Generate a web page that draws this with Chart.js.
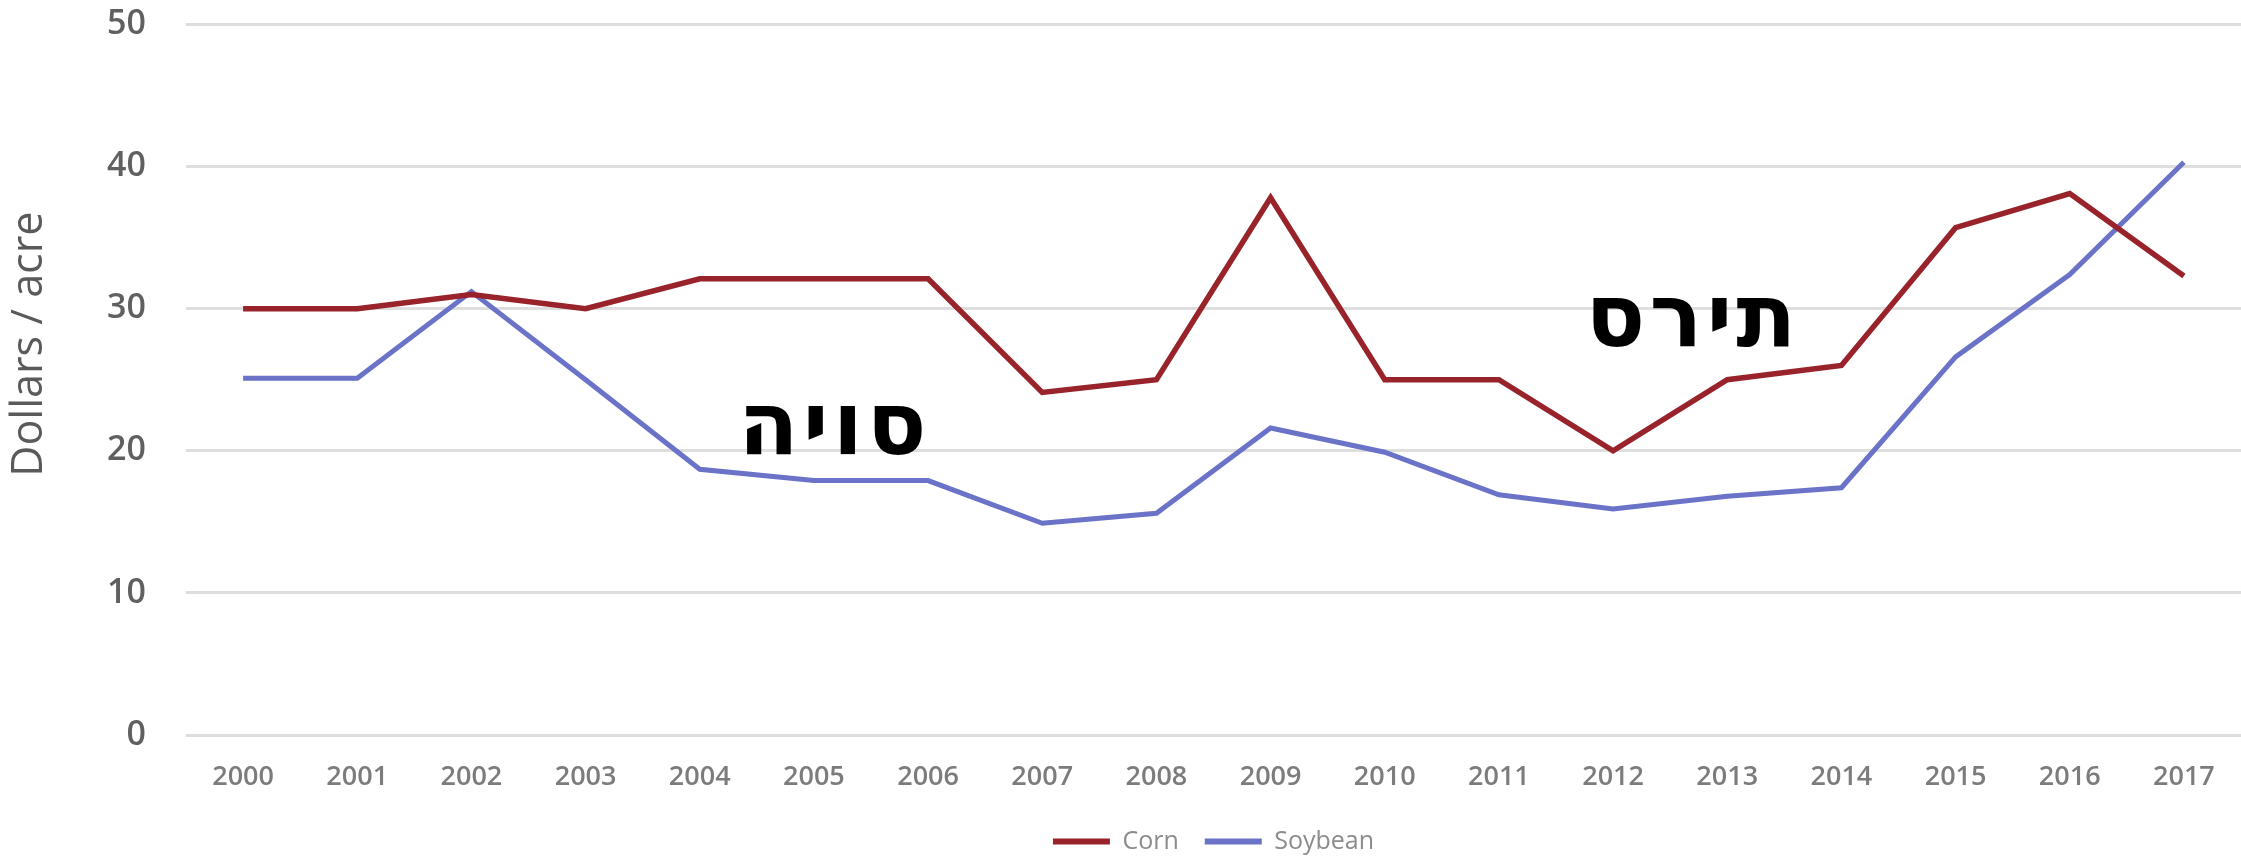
<!DOCTYPE html>
<html>
<head>
<meta charset="utf-8">
<title>Corn / Soybean</title>
<script src="https://cdn.jsdelivr.net/npm/chart.js@4.4.1/dist/chart.umd.min.js"></script>
<style>
  html, body { margin: 0; padding: 0; background: #ffffff; }
  #wrap { width: 2241px; height: 857px; position: relative; }
</style>
</head>
<body>
<div id="wrap"><canvas id="myChart"></canvas></div>
<script>
const years = ["2000", "2001", "2002", "2003", "2004", "2005", "2006", "2007", "2008",
  "2009", "2010", "2011", "2012", "2013", "2014", "2015", "2016", "2017"];
const corn = [30, 30, 31, 30, 32.1, 32.1, 32.1, 24.1, 25, 37.8, 25, 25, 20, 25, 26, 35.7, 38.1, 32.3];
const soybean = [25.1, 25.1, 31.2, 25, 18.7, 17.9, 17.9, 14.9, 15.6, 21.6, 19.9, 16.9, 15.9, 16.8, 17.4, 26.6, 32.4, 40.3];
const yTitle = "Dollars / acre";

// hebrew labels over the lines, anchored in data space (category index, value)
const noteText = ["סויה", "תירס"];
const noteIndex = [5.18, 12.7];
const noteValue = [19.8, 27.4];

// axis title sits a bit above the middle of the value axis
const yTitleValue = 27.5;

const notesPlugin = {
  id: "notes",
  afterDatasetsDraw: (chart) => {
    const { ctx, scales } = chart;
    ctx.save();
    ctx.font = "bold 88px 'DejaVu Sans'";
    ctx.letterSpacing = "4px";
    ctx.fillStyle = "#000000";
    ctx.textAlign = "center";
    ctx.textBaseline = "alphabetic";
    noteText.forEach((txt, i) => {
      const x = scales.x.getPixelForValue(noteIndex[i]);
      const y = scales.y.getPixelForValue(noteValue[i]);
      ctx.fillText(txt, x, y);
    });
    ctx.restore();

    // y axis title
    ctx.save();
    ctx.font = "43px 'Open Sans'";
    ctx.fillStyle = "#5a5a5a";
    ctx.textAlign = "center";
    ctx.textBaseline = "middle";
    ctx.translate(scales.y.left + 30, scales.y.getPixelForValue(yTitleValue));
    ctx.rotate(-Math.PI / 2);
    ctx.fillText(yTitle, 0, 0);
    ctx.restore();
  },
};

const config = {
  type: "line",
  data: {
    labels: years,
    datasets: [
      {
        label: "Corn",
        data: corn,
        borderColor: "#98232a",
        backgroundColor: "#98232a",
        borderWidth: 5.5,
        pointRadius: 0,
        tension: 0,
      },
      {
        label: "Soybean",
        data: soybean,
        borderColor: "#6a73c8",
        backgroundColor: "#6a73c8",
        borderWidth: 5,
        pointRadius: 0,
        tension: 0,
      },
    ],
  },
  options: {
    responsive: true,
    maintainAspectRatio: false,
    animation: false,
    layout: { padding: { top: 24, right: 0, bottom: 0, left: 0 } },
    plugins: {
      tooltip: { enabled: false },
      legend: {
        position: "bottom",
        fullSize: false,
        maxHeight: 54,
        labels: {
          usePointStyle: true,
          pointStyle: "line",
          pointStyleWidth: 57,
          padding: 26,
          color: "#8c8c8c",
          font: { family: "'Open Sans'", size: 25 },
          generateLabels: (chart) =>
            Chart.defaults.plugins.legend.labels.generateLabels(chart)
              .map((item) => ({ ...item, lineWidth: 6 })),
        },
      },
    },
    scales: {
      x: {
        offset: true,
        afterFit: (scale) => { scale.height = 68; },
        grid: { display: false, drawTicks: false },
        border: { display: false },
        ticks: {
          color: "#7c7c7c",
          padding: 26,
          maxRotation: 0,
          font: { family: "'Open Sans'", size: 27, weight: "600" },
        },
      },
      y: {
        min: 0,
        max: 50,
        afterFit: (scale) => { scale.width = 186; },
        grid: {
          color: "#dedede",
          lineWidth: 3,
          drawTicks: true,
          tickLength: 36,
          tickColor: "rgba(0,0,0,0)",
        },
        border: { display: false },
        ticks: {
          stepSize: 10,
          padding: 4,
          color: "#606060",
          font: { family: "'Open Sans'", size: 34, weight: "600" },
        },
      },
    },
  },
  plugins: [notesPlugin],
};

const canvas = document.getElementById("myChart").getContext("2d");
const myChart = new Chart(canvas, config);
</script>
</body>
</html>
